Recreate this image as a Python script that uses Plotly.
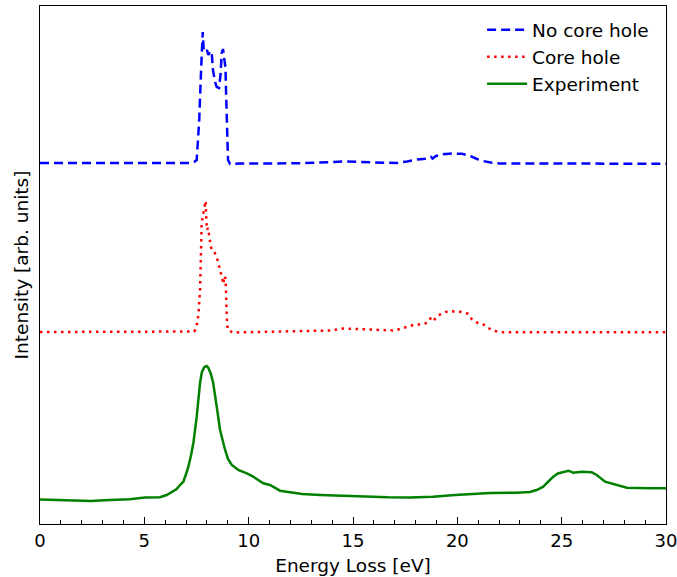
import plotly.graph_objects as go

# Energy-loss spectra (energy in eV, intensity in arbitrary units, curves stacked vertically)
energy_no_core = [0, 7.19, 7.38, 7.51, 7.57, 7.63, 7.72, 7.75, 7.80, 7.84, 7.91, 8.00, 8.07, 8.15,
                  8.23, 8.29, 8.39, 8.47, 8.58, 8.65, 8.71, 8.77, 8.82, 8.87, 8.89, 8.91, 8.96,
                  9.01, 9.11, 9.58, 12.46, 13.9, 14.62, 15.34, 16.29, 17.11, 17.59, 18.07, 18.59,
                  18.74, 18.81, 18.98, 19.31, 19.74, 20.22, 20.61, 20.94, 21.23, 21.66, 22.04, 30]
intensity_no_core = [3.61, 3.61, 3.62, 3.64, 3.84, 4.04, 4.54, 4.71, 4.92, 4.76, 4.72, 4.74, 4.69,
                     4.73, 4.71, 4.54, 4.42, 4.37, 4.36, 4.49, 4.71, 4.75, 4.67, 4.62, 4.56, 4.37,
                     4.04, 3.64, 3.60, 3.605, 3.607, 3.615, 3.625, 3.62, 3.613, 3.61, 3.625, 3.644,
                     3.655, 3.67, 3.655, 3.68, 3.697, 3.704, 3.702, 3.68, 3.65, 3.63, 3.613, 3.605,
                     3.603]

energy_core = [0, 7.19, 7.38, 7.48, 7.59, 7.67, 7.70, 7.75, 7.81, 7.88, 7.94, 7.96, 8.00, 8.05,
               8.11, 8.19, 8.27, 8.34, 8.47, 8.58, 8.65, 8.74, 8.78, 8.84, 8.88, 8.91, 8.95, 9.00,
               9.25, 10.54, 12.46, 13.9, 14.52, 15.1, 16.29, 17.01, 17.16, 17.59, 17.97, 18.31,
               18.59, 18.74, 18.86, 19.07, 19.44, 19.79, 20.13, 20.51, 20.69, 20.99, 21.22, 21.47,
               21.80, 22.19, 30]
intensity_core = [1.92, 1.92, 1.925, 1.95, 2.09, 2.34, 2.67, 3.01, 3.09, 3.16, 3.23, 3.09, 2.94,
                  2.96, 2.86, 2.77, 2.73, 2.725, 2.67, 2.59, 2.54, 2.45, 2.40, 2.48, 2.46, 2.37,
                  2.07, 1.94, 1.915, 1.92, 1.925, 1.935, 1.955, 1.95, 1.945, 1.935, 1.945, 1.97,
                  1.995, 1.995, 2.015, 2.065, 2.035, 2.085, 2.12, 2.127, 2.123, 2.103, 2.05, 2.01,
                  2.00, 1.96, 1.93, 1.917, 1.917]

energy_exp = [0, 0.96, 2.44, 3.35, 4.29, 5.03, 5.75, 6.07, 6.33, 6.55, 6.71, 6.87, 7.00, 7.11,
              7.24, 7.35, 7.51, 7.59, 7.67, 7.76, 7.88, 7.99, 8.07, 8.19, 8.30, 8.47, 8.63, 8.87,
              9.01, 9.19, 9.50, 9.91, 10.22, 10.70, 11.02, 11.50, 11.98, 12.56, 13.42, 14.62,
              15.57, 16.68, 17.73, 18.83, 19.89, 20.80, 21.57, 22.84, 23.48, 23.80, 24.12, 24.34,
              24.60, 24.82, 25.08, 25.32, 25.56, 25.96, 26.44, 26.68, 27.08, 27.64, 28.12, 29.23,
              30]
intensity_exp = [0.245, 0.242, 0.23, 0.24, 0.247, 0.265, 0.267, 0.29, 0.325, 0.35, 0.39, 0.423,
                 0.50, 0.573, 0.69, 0.81, 1.073, 1.24, 1.41, 1.52, 1.57, 1.58, 1.56, 1.50, 1.41,
                 1.173, 0.94, 0.74, 0.65, 0.59, 0.54, 0.507, 0.473, 0.407, 0.39, 0.333, 0.315,
                 0.30, 0.29, 0.28, 0.27, 0.267, 0.265, 0.273, 0.29, 0.30, 0.31, 0.313, 0.32, 0.34,
                 0.373, 0.42, 0.473, 0.505, 0.523, 0.533, 0.513, 0.523, 0.517, 0.49, 0.423, 0.39,
                 0.363, 0.357, 0.357]

series_names = ["No core hole", "Core hole", "Experiment"]
x_ticks = [0, 5, 10, 15, 20, 25, 30]

FONT = "DejaVu Sans"

fig = go.Figure()
fig.add_trace(go.Scatter(x=energy_no_core, y=intensity_no_core, mode="lines", name=series_names[0],
                         line=dict(color="#0000ff", width=2.5, dash="9px,5px")))
fig.add_trace(go.Scatter(x=energy_core, y=intensity_core, mode="lines", name=series_names[1],
                         line=dict(color="#ff0000", width=2.5, dash="2.5px,4.5px")))
fig.add_trace(go.Scatter(x=energy_exp, y=intensity_exp, mode="lines", name=series_names[2],
                         line=dict(color="#008000", width=2.5)))

fig.update_layout(
    width=677, height=577,
    margin=dict(l=40, r=11, t=6, b=53),
    paper_bgcolor="white", plot_bgcolor="white",
    font=dict(family=FONT, size=18, color="black"),
    showlegend=True,
    legend=dict(x=0.981, y=0.99, xanchor="right", yanchor="top",
                font=dict(family=FONT, size=18.5), bgcolor="rgba(0,0,0,0)",
                tracegroupgap=0, itemwidth=40),
    xaxis=dict(
        range=[0, 30.0001], tickvals=x_ticks, ticktext=[str(t) for t in x_ticks],
        ticks="inside", ticklen=7, tickwidth=1, tickcolor="black",
        minor=dict(dtick=1, ticks="inside", ticklen=4, tickwidth=1, tickcolor="black"),
        showline=True, linecolor="black", linewidth=1.2, mirror=True,
        showgrid=False, zeroline=False, automargin=False, ticklabeloverflow="allow",
        tickfont=dict(family=FONT, size=18),
        title=dict(text="Energy Loss [eV]", font=dict(family=FONT, size=18.5), standoff=9),
    ),
    yaxis=dict(
        range=[0, 5.18], showticklabels=False, ticks="",
        showline=True, linecolor="black", linewidth=1.2, mirror=True,
        showgrid=False, zeroline=False, automargin=False,
        title=dict(text="Intensity [arb. units]", font=dict(family=FONT, size=18.5), standoff=5),
    ),
)

fig.write_html("out.html")
